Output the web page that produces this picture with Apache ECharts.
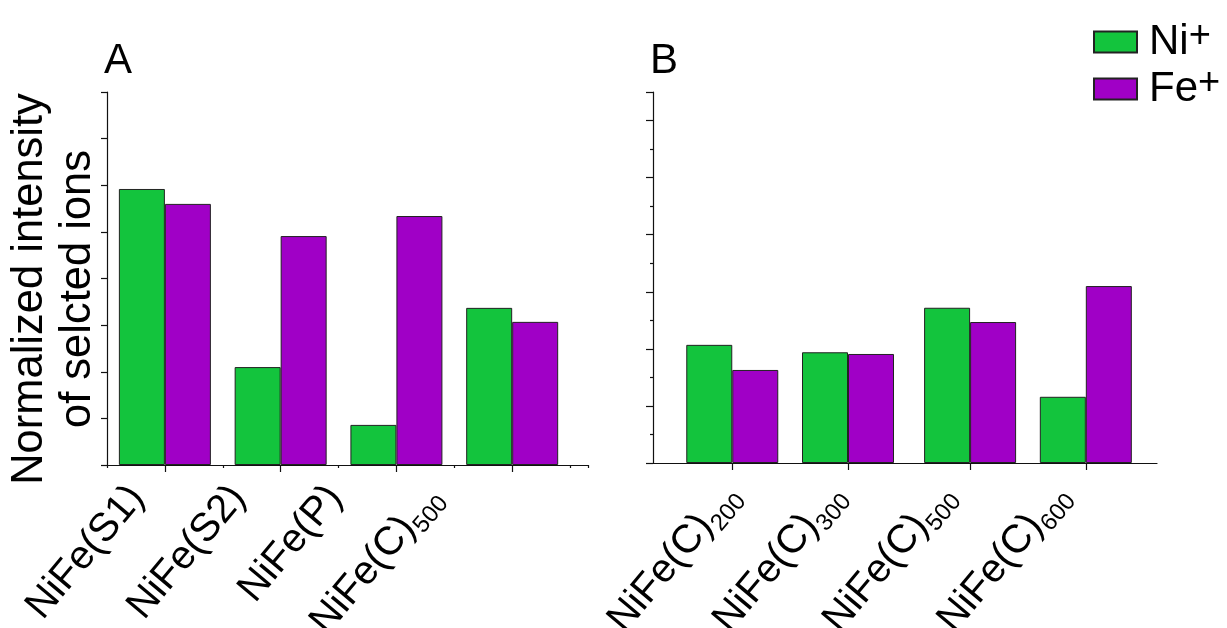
<!DOCTYPE html>
<html>
<head>
<meta charset="utf-8">
<script src="https://cdn.jsdelivr.net/npm/echarts@6/dist/echarts.min.js"></script>
<style>
  html, body { margin: 0; padding: 0; background: #fff; }
  #main { width: 1227px; height: 628px; }
</style>
</head>
<body>
<div id="main"></div>
<script>
// panel A
var namesA = ['NiFe(S1)', 'NiFe(S2)', 'NiFe(P)', 'NiFe(C)'];
var subsA = ['', '', '', '500'];
var posA = [1, 3, 5, 7];
var niA = [5.92, 2.10, 0.86, 3.37];
var feA = [5.60, 4.91, 5.34, 3.07];

// panel B
var namesB = ['NiFe(C)', 'NiFe(C)', 'NiFe(C)', 'NiFe(C)'];
var subsB = ['200', '300', '500', '600'];
var posB = [1.37, 3.37, 5.48, 7.48];
var niB = [2.07, 1.94, 2.72, 1.16];
var feB = [1.63, 1.91, 2.47, 3.10];

var FONT = '"Liberation Sans", Arial, sans-serif';
var GREEN = '#13C43D';
var PURPLE = '#A000C6';

// where the rotated labels sit on each x axis
var labelAtA = [0.52, 2.27, 3.94, 5.65];
var labelAtB = [1.36, 3.18, 5.08, 7.06];

function pairs(xs, ys) {
  return ys.map(function (v, i) { return [xs[i], v]; });
}

function labelFormatter(at, names, subs) {
  return function (value, index) {
    var i = at.indexOf(value);
    if (i < 0) i = index;
    var s = '{m|' + names[i] + '}';
    if (subs[i]) s += '{s|' + subs[i] + '}';
    return s;
  };
}

var labelRich = {
  m: { fontSize: 40, lineHeight: 50, fontFamily: FONT, color: '#000' },
  s: { fontSize: 24, lineHeight: 22, verticalAlign: 'bottom', fontFamily: FONT, color: '#000' }
};

var lineStyle = { color: '#111', width: 1.2 };

var myChart = echarts.init(document.getElementById('main'));

var option = {
  animation: false,
  backgroundColor: '#fff',
  grid: [
    { left: 107, top: 92, width: 481, height: 373, outerBoundsMode: 'none', containLabel: false },
    { left: 653, top: 92, width: 504, height: 371, outerBoundsMode: 'none', containLabel: false }
  ],
  legend: {
    data: ['Ni', 'Fe'],
    orient: 'vertical',
    left: 1093,
    top: 18,
    padding: 0,
    itemWidth: 43,
    itemHeight: 21,
    itemGap: 2,
    icon: 'rect',
    selectedMode: false,
    formatter: function (name) { return '{m|' + name + '}{p|+}'; },
    textStyle: {
      padding: [0, 0, 0, 7],
      rich: {
        m: { fontSize: 42, lineHeight: 48, fontFamily: FONT, color: '#000' },
        p: { fontSize: 38, lineHeight: 6, verticalAlign: 'top', fontFamily: FONT, color: '#000' }
      }
    }
  },
  xAxis: [
    {
      type: 'value', gridIndex: 0, min: 0, max: 8.31, interval: 2,
      splitLine: { show: false },
      axisLine: { lineStyle: lineStyle },
      axisTick: { length: 3, lineStyle: lineStyle },
      minorTick: { show: true, splitNumber: 2, length: 7, lineStyle: lineStyle },
      axisLabel: {
        customValues: labelAtA,
        rotate: 50, margin: 26,
        formatter: labelFormatter(labelAtA, namesA, subsA),
        rich: labelRich
      }
    },
    {
      type: 'value', gridIndex: 1, min: 0, max: 8.71,
      splitLine: { show: false },
      axisLine: { lineStyle: lineStyle },
      axisTick: { customValues: posB, length: 7, lineStyle: lineStyle },
      axisLabel: {
        customValues: labelAtB,
        rotate: 50, margin: 26,
        formatter: labelFormatter(labelAtB, namesB, subsB),
        rich: labelRich
      }
    }
  ],
  yAxis: [
    {
      type: 'value', gridIndex: 0, min: 0, max: 8, interval: 1,
      splitLine: { show: false },
      axisLine: { show: true, lineStyle: lineStyle },
      axisTick: { show: true, length: 6, lineStyle: lineStyle },
      axisLabel: { show: false }
    },
    {
      type: 'value', gridIndex: 1, min: 0, max: 6.5, interval: 1,
      splitLine: { show: false },
      axisLine: { show: true, lineStyle: lineStyle },
      axisTick: { show: true, length: 7, lineStyle: lineStyle },
      minorTick: { show: true, splitNumber: 2, length: 3, lineStyle: lineStyle },
      axisLabel: { show: false }
    }
  ],
  graphic: [
    {
      type: 'text', x: 54, y: 289, rotation: Math.PI / 2,
      style: {
        text: 'Normalized intensity\nof selcted ions',
        font: '43.5px ' + FONT, lineHeight: 48,
        align: 'center', verticalAlign: 'middle', fill: '#000'
      }
    },
    {
      type: 'text', x: 104, y: 61,
      style: { text: 'A', font: '42px ' + FONT, align: 'left', verticalAlign: 'middle', fill: '#000' }
    },
    {
      type: 'text', x: 650, y: 61,
      style: { text: 'B', font: '42px ' + FONT, align: 'left', verticalAlign: 'middle', fill: '#000' }
    }
  ],
  series: [
    {
      name: 'Ni', type: 'bar', xAxisIndex: 0, yAxisIndex: 0,
      barWidth: 46, barGap: '0%',
      itemStyle: { color: GREEN, borderColor: '#222', borderWidth: 1 },
      data: pairs(posA, niA)
    },
    {
      name: 'Fe', type: 'bar', xAxisIndex: 0, yAxisIndex: 0,
      barWidth: 46, barGap: '0%',
      itemStyle: { color: PURPLE, borderColor: '#222', borderWidth: 1 },
      data: pairs(posA, feA)
    },
    {
      name: 'Ni', type: 'bar', xAxisIndex: 1, yAxisIndex: 1,
      barWidth: 46, barGap: '0%',
      itemStyle: { color: GREEN, borderColor: '#222', borderWidth: 1 },
      data: pairs(posB, niB)
    },
    {
      name: 'Fe', type: 'bar', xAxisIndex: 1, yAxisIndex: 1,
      barWidth: 46, barGap: '0%',
      itemStyle: { color: PURPLE, borderColor: '#222', borderWidth: 1 },
      data: pairs(posB, feB)
    }
  ]
};

myChart.setOption(option);
</script>
</body>
</html>
